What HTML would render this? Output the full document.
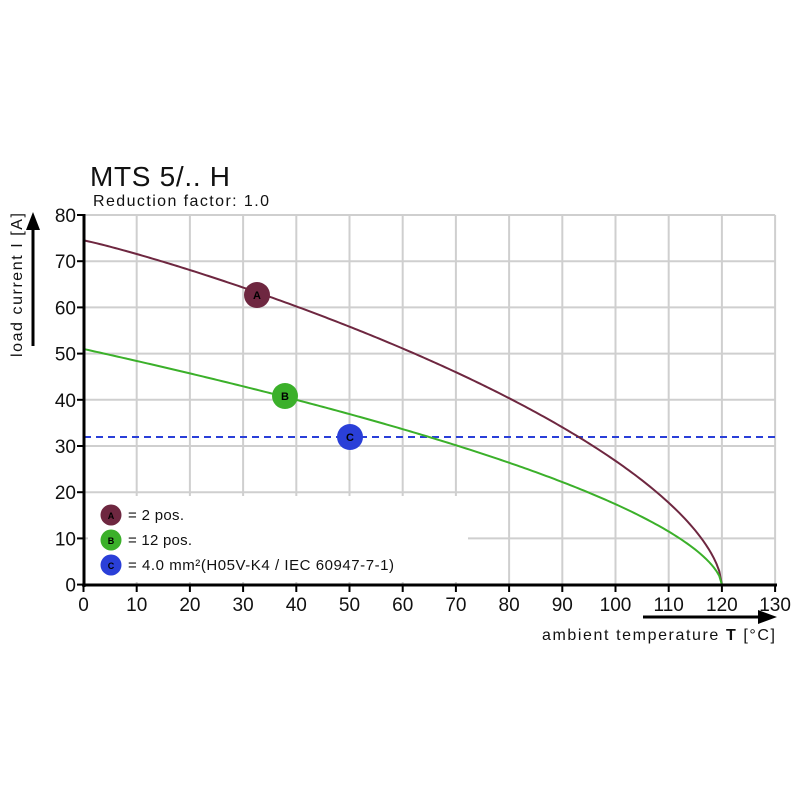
<!DOCTYPE html>
<html><head><meta charset="utf-8"><style>
html,body{margin:0;padding:0;background:#fff;}
svg{display:block;font-family:"Liberation Sans",Arial,sans-serif;}
</style></head><body>
<svg id="s" width="800" height="800" viewBox="0 0 800 800" xmlns="http://www.w3.org/2000/svg">
<rect width="800" height="800" fill="#fff"/>
<g id="grid" stroke="#cfcfcf" stroke-width="2"></g>
<rect x="88" y="496" width="380" height="86" fill="#fff"/>
<line x1="84" y1="437" x2="776" y2="437" stroke="#2a3fd8" stroke-width="2" stroke-dasharray="7,5"/>
<polyline id="pA" fill="none" stroke="#6e2740" stroke-width="2"/>
<polyline id="pB" fill="none" stroke="#3bb02a" stroke-width="2"/>
<g font-weight="bold" font-size="11" text-anchor="middle">
<circle cx="257" cy="295" r="13" fill="#6e2740"/><text x="257" y="299">A</text>
<circle cx="285" cy="396" r="13" fill="#3bb02a"/><text x="285" y="400">B</text>
<circle cx="350" cy="437" r="13" fill="#2a3fd8"/><text x="350" y="441">C</text>
<circle cx="111" cy="515" r="10.5" fill="#6e2740"/><text x="111" y="519" font-size="9">A</text>
<circle cx="111" cy="540" r="10.5" fill="#3bb02a"/><text x="111" y="544" font-size="9">B</text>
<circle cx="111" cy="565" r="10.5" fill="#2a3fd8"/><text x="111" y="569" font-size="9">C</text>
</g>
<g font-size="15" fill="#111">
<text x="128" y="520" textLength="56">= 2 pos.</text>
<text x="128" y="545" textLength="64">= 12 pos.</text>
<text x="128" y="570" textLength="266">= 4.0 mm²(H05V-K4 / IEC 60947-7-1)</text>
</g>
<line x1="84" y1="214" x2="84" y2="587" stroke="#000" stroke-width="3"/>
<line x1="82" y1="585" x2="777" y2="585" stroke="#000" stroke-width="3"/>
<g id="ticks" stroke="#000" stroke-width="2"></g>
<g id="lbl" font-size="19" fill="#111"></g>
<text x="90" y="186" font-size="28" fill="#111" textLength="140">MTS 5/.. H</text>
<text x="93" y="206" font-size="16" fill="#111" textLength="176">Reduction factor: 1.0</text>
<text transform="translate(22,285) rotate(-90)" font-size="16" text-anchor="middle" fill="#111" textLength="144">load current I [A]</text>
<line x1="33" y1="346" x2="33" y2="228" stroke="#000" stroke-width="3"/>
<polygon points="26,230 40,230 33,212" fill="#000"/>
<line x1="643" y1="617" x2="760" y2="617" stroke="#000" stroke-width="3"/>
<polygon points="758,610 758,624 777,617" fill="#000"/>
<text x="775" y="640" font-size="16" text-anchor="end" fill="#111" textLength="233">ambient temperature <tspan font-weight="bold">T</tspan> [°C]</text>
</svg>
<script>
var X=function(t){return 83.5+5.32*t},Y=function(i){return 584.6-4.62*i};
var ns="http://www.w3.org/2000/svg",g=document.getElementById('grid'),tk=document.getElementById('ticks'),lb=document.getElementById('lbl');
function L(p,a,b,c,d){var l=document.createElementNS(ns,'line');l.setAttribute('x1',a);l.setAttribute('y1',b);l.setAttribute('x2',c);l.setAttribute('y2',d);p.appendChild(l);}
function T(x,y,s,anc){var t=document.createElementNS(ns,'text');t.setAttribute('x',x);t.setAttribute('y',y);t.setAttribute('text-anchor',anc);t.textContent=s;lb.appendChild(t);}
for(var t=10;t<=130;t+=10)L(g,X(t),Y(80),X(t),Y(0));
for(var i=10;i<=80;i+=10)L(g,X(0),Y(i),X(130),Y(i));
for(var t=0;t<=130;t+=10){L(tk,X(t),585,X(t),592);T(X(t),611,t,'middle');}
for(var i=0;i<=80;i+=10){L(tk,77,Y(i),84,Y(i));T(76,Y(i)+7,i,'end');}
function C(id,a,k,m){var pts=[];for(var t=0;t<=120.001;t+=0.5){var v=1-Math.pow(t/120,k);if(v<0)v=0;pts.push(X(t)+','+Y(a*Math.pow(v,m)));}document.getElementById(id).setAttribute('points',pts.join(' '));}
C('pA',74.5,1.1,0.6);
C('pB',51,1.0,0.6);
</script>
</body></html>
